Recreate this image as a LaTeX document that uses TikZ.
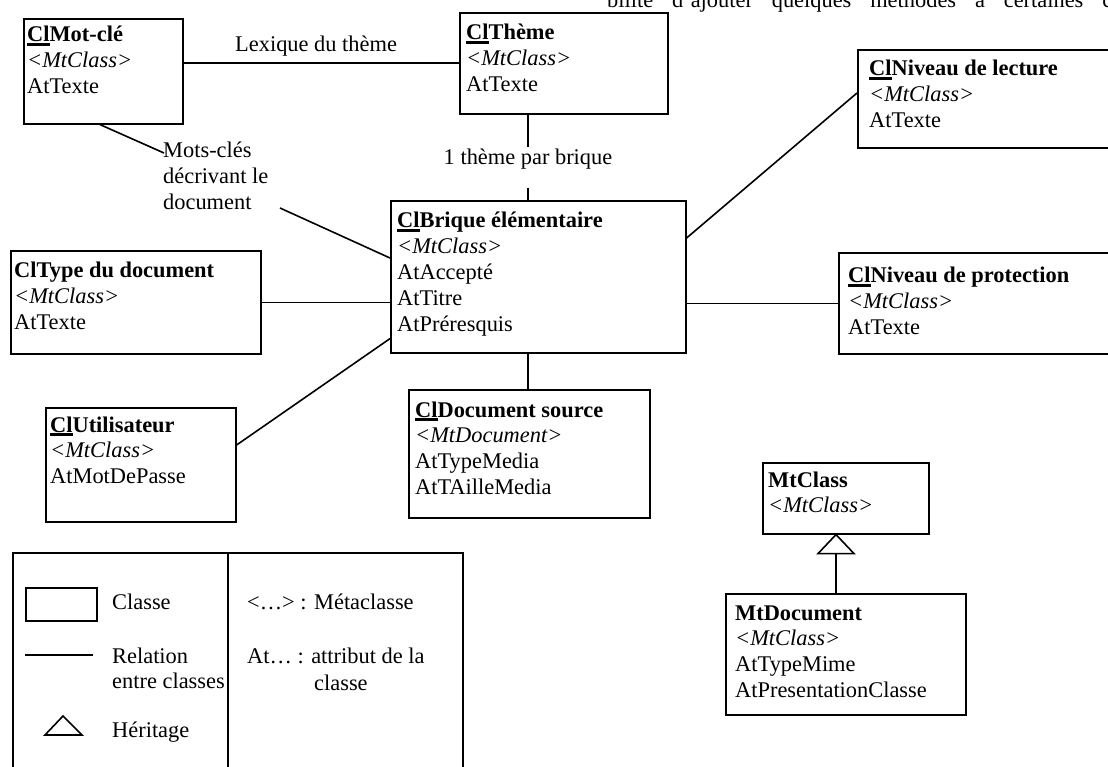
\documentclass[tikz,border=0pt]{standalone}
\usepackage{fontspec}
\setmainfont{Liberation Serif}
\usetikzlibrary{calc}
\newcommand\ulcl[1]{\setbox0\hbox{#1}\rlap{\rule[-3.6pt]{\wd0}{2.2pt}}\box0}
\begin{document}
\begin{tikzpicture}[x=1pt,y=-1pt,
  every node/.style={font=\fontsize{22.4pt}{25.8pt}\selectfont},
  box/.style={draw, line width=1.6pt, inner sep=0pt, anchor=north west},
  txt/.style={anchor=base west, inner sep=0pt},
  lbl/.style={anchor=base west, inner sep=0pt},
  conn/.style={line width=1.6pt}]
\useasboundingbox (0,0) rectangle (1108,767);
\path[clip] (0,0) rectangle (1108,767);

% top cut-off text
\node[lbl] (toptext) at (607,8) {\makebox[505pt][s]{bilité d’ajouter quelques méthodes à certaines c}};

% class boxes
\node[box, minimum width=159pt, minimum height=105pt] (motcle) at (23,18) {};
\node[txt] (motcle-t) at (27,42) {\parbox[t]{300pt}{\textbf{\ulcl{Cl}Mot-clé}\\\textit{<MtClass>}\\AtTexte}};

\node[box, minimum width=208pt, minimum height=101pt] (theme) at (459,12) {};
\node[txt] (theme-t) at (466,40) {\parbox[t]{300pt}{\textbf{\ulcl{Cl}Thème}\\\textit{<MtClass>}\\AtTexte}};

\node[box, minimum width=262pt, minimum height=98pt] (lecture) at (857,49) {};
\node[txt] (lecture-t) at (869,76) {\parbox[t]{300pt}{\textbf{\ulcl{Cl}Niveau de lecture}\\\textit{<MtClass>}\\AtTexte}};

\node[box, minimum width=295pt, minimum height=152pt] (brique) at (390,200) {};
\node[txt] (brique-t) at (397,228) {\parbox[t]{300pt}{\textbf{\ulcl{Cl}Brique élémentaire}\\\textit{<MtClass>}\\AtAccepté\\AtTitre\\AtPréresquis}};

\node[box, minimum width=250pt, minimum height=103pt] (type) at (10,250) {};
\node[txt] (type-t) at (14,278) {\parbox[t]{300pt}{\textbf{ClType du document}\\\textit{<MtClass>}\\AtTexte}};

\node[box, minimum width=282pt, minimum height=101pt] (protection) at (838,252) {};
\node[txt] (protection-t) at (848,283) {\parbox[t]{300pt}{\textbf{\ulcl{Cl}Niveau de protection}\\\textit{<MtClass>}\\AtTexte}};

\node[box, minimum width=190pt, minimum height=114pt] (utilisateur) at (45,407) {};
\node[txt] (utilisateur-t) at (50,432) {\parbox[t]{300pt}{\textbf{\ulcl{Cl}Utilisateur}\\\textit{<MtClass>}\\AtMotDePasse}};

\node[box, minimum width=241pt, minimum height=128pt] (docsource) at (408,389) {};
\node[txt] (docsource-t) at (415,417) {\parbox[t]{300pt}{\textbf{\ulcl{Cl}Document source}\\\textit{<MtDocument>}\\AtTypeMedia\\AtTAilleMedia}};

\node[box, minimum width=166pt, minimum height=71pt] (mtclass) at (762,462) {};
\node[txt] (mtclass-t) at (768,487) {\parbox[t]{300pt}{\textbf{MtClass}\\\textit{<MtClass>}}};

\node[box, minimum width=240pt, minimum height=121pt] (mtdocument) at (725,593) {};
\node[txt] (mtdocument-t) at (735,620) {\parbox[t]{300pt}{\textbf{MtDocument}\\\textit{<MtClass>}\\AtTypeMime\\AtPresentationClasse}};

% helper coordinates
\coordinate (tb) at (528,0);
\coordinate (ih) at (836,0);

% relations
\node[lbl] (lexique) at (235,52) {Lexique du thème};
\draw[conn] (motcle.east |- theme.west) -- (theme.west);

\node[anchor=base, inner sep=0pt] (unTheme) at (528,165) {1 thème par brique};
\coordinate (tb1) at (528,147);
\coordinate (tb2) at (528,188);
\draw[conn] (theme.south -| tb) -- (tb1);
\draw[conn] (tb2) -- (brique.north -| tb);

\node[txt] (motscles) at (163,158) {\parbox[t]{200pt}{Mots-clés\\décrivant le\\document}};
\coordinate (mk1) at (164,153);
\coordinate (mk2) at (280,208);
\draw[conn] ($(motcle.south west)+(77,0)$) -- (mk1);
\draw[conn] (mk2) -- ($(brique.north west)+(0,58)$);

\draw[conn] ($(brique.north east)+(0,38)$) -- ($(lecture.north west)+(0,44)$);
\draw[conn] (type.east) -- (type.east -| brique.west);
\draw[conn] (brique.east |- protection.west) -- (protection.west);
\draw[conn] ($(utilisateur.north east)+(0,38)$) -- ($(brique.south west)+(0,-15)$);
\draw[conn] (brique.south -| tb) -- (docsource.north -| tb);

% inheritance
\draw[conn, line join=miter] (mtclass.south -| ih) -- ++(-18,19) -- ++(36,0) -- cycle;
\draw[conn] ($(mtclass.south -| ih)+(0,19)$) -- (mtdocument.north -| ih);

% legend
\node[box, minimum width=450pt, minimum height=260pt] (legend) at (12,552) {};
\draw[conn] ($(legend.north west)+(216,0)$) -- ($(legend.south west)+(216,0)$);
\node[box, minimum width=71pt, minimum height=33pt] (legclass) at (25,587) {};
\coordinate (legl1) at (25,655);
\coordinate (legl2) at (93,655);
\draw[conn] (legl1) -- (legl2);
\coordinate (legtri) at (63,716);
\draw[conn, line join=miter] (legtri) -- ++(-18,19) -- ++(37,0) -- cycle;
\node[lbl] (lclasse) at (112,609) {Classe};
\node[txt] (lrel) at (112,663) {\parbox[t]{200pt}{Relation\\entre classes}};
\node[lbl] (lher) at (112,737) {Héritage};
\node[lbl] (lmeta) at (247,609) {<…> : Métaclasse};
\node[lbl] (lattr) at (247,663) {At… : attribut de la};
\node[lbl] (lattr2) at (314,690) {classe};
\end{tikzpicture}
\end{document}
